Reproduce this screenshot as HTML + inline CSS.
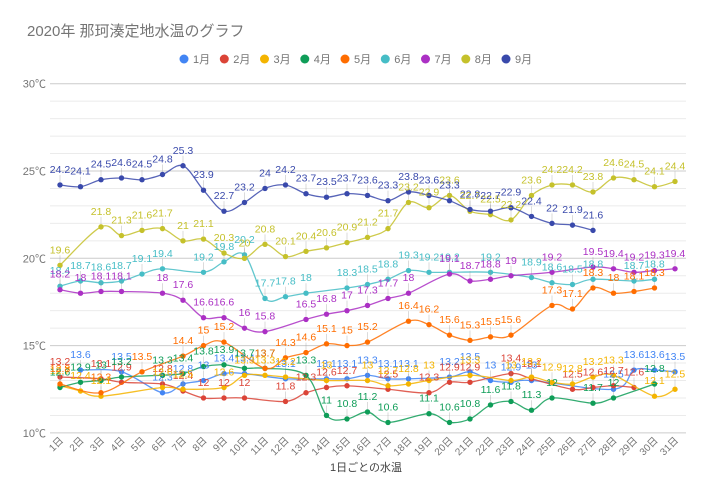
<!DOCTYPE html>
<html><head><meta charset="utf-8">
<style>
html,body{margin:0;padding:0;background:#fff;}
body{width:720px;height:493px;overflow:hidden;}
svg{display:block;font-family:"Liberation Sans","Noto Sans CJK JP",sans-serif;}
</style></head><body>
<svg id="c" width="720" height="493" viewBox="0 0 720 493">
<rect width="720" height="493" fill="#fff"/>
<text x="27" y="36" font-size="15" fill="#757575">2020年 那珂湊定地水温のグラフ</text>
<g font-size="11" fill="#757575">
<circle cx="184" cy="59" r="4.5" fill="#4285f4"/><text x="193" y="63">1月</text>
<circle cx="224.3" cy="59" r="4.5" fill="#db4437"/><text x="233.3" y="63">2月</text>
<circle cx="264.5" cy="59" r="4.5" fill="#f4b400"/><text x="273.5" y="63">3月</text>
<circle cx="304.8" cy="59" r="4.5" fill="#0f9d58"/><text x="313.8" y="63">4月</text>
<circle cx="345" cy="59" r="4.5" fill="#ff6d00"/><text x="354" y="63">5月</text>
<circle cx="385.3" cy="59" r="4.5" fill="#46bdc6"/><text x="394.3" y="63">6月</text>
<circle cx="425.5" cy="59" r="4.5" fill="#ab30c4"/><text x="434.5" y="63">7月</text>
<circle cx="465.8" cy="59" r="4.5" fill="#c5c12b"/><text x="474.8" y="63">8月</text>
<circle cx="506" cy="59" r="4.5" fill="#3949ab"/><text x="515" y="63">9月</text>
</g>
<g id="grid"></g>
<g font-size="11" fill="#757575" text-anchor="end">
<text x="46" y="87.7">30℃</text>
<text x="46" y="175">25℃</text>
<text x="46" y="262.3">20℃</text>
<text x="46" y="349.6">15℃</text>
<text x="46" y="436.9">10℃</text>
</g>
<g font-size="10" fill="#757575" text-anchor="end">
<text x="64" y="441" transform="rotate(-45 64 441)">1日</text>
<text x="84.5" y="441" transform="rotate(-45 84.5 441)">2日</text>
<text x="105" y="441" transform="rotate(-45 105 441)">3日</text>
<text x="125.5" y="441" transform="rotate(-45 125.5 441)">4日</text>
<text x="146" y="441" transform="rotate(-45 146 441)">5日</text>
<text x="166.5" y="441" transform="rotate(-45 166.5 441)">6日</text>
<text x="187" y="441" transform="rotate(-45 187 441)">7日</text>
<text x="207.5" y="441" transform="rotate(-45 207.5 441)">8日</text>
<text x="228" y="441" transform="rotate(-45 228 441)">9日</text>
<text x="248.5" y="441" transform="rotate(-45 248.5 441)">10日</text>
<text x="269" y="441" transform="rotate(-45 269 441)">11日</text>
<text x="289.5" y="441" transform="rotate(-45 289.5 441)">12日</text>
<text x="310" y="441" transform="rotate(-45 310 441)">13日</text>
<text x="330.5" y="441" transform="rotate(-45 330.5 441)">14日</text>
<text x="351" y="441" transform="rotate(-45 351 441)">15日</text>
<text x="371.5" y="441" transform="rotate(-45 371.5 441)">16日</text>
<text x="392" y="441" transform="rotate(-45 392 441)">17日</text>
<text x="412.5" y="441" transform="rotate(-45 412.5 441)">18日</text>
<text x="433" y="441" transform="rotate(-45 433 441)">19日</text>
<text x="453.5" y="441" transform="rotate(-45 453.5 441)">20日</text>
<text x="474" y="441" transform="rotate(-45 474 441)">21日</text>
<text x="494.5" y="441" transform="rotate(-45 494.5 441)">22日</text>
<text x="515" y="441" transform="rotate(-45 515 441)">23日</text>
<text x="535.5" y="441" transform="rotate(-45 535.5 441)">24日</text>
<text x="556" y="441" transform="rotate(-45 556 441)">25日</text>
<text x="576.5" y="441" transform="rotate(-45 576.5 441)">26日</text>
<text x="597" y="441" transform="rotate(-45 597 441)">27日</text>
<text x="617.5" y="441" transform="rotate(-45 617.5 441)">28日</text>
<text x="638" y="441" transform="rotate(-45 638 441)">29日</text>
<text x="658.5" y="441" transform="rotate(-45 658.5 441)">30日</text>
<text x="679" y="441" transform="rotate(-45 679 441)">31日</text>
</g>
<text x="366" y="471" font-size="11" fill="#444" text-anchor="middle">1日ごとの水温</text>
<g id="series"></g>
<g id="labels" font-size="10.5" text-anchor="middle">
<g fill="#4285f4">
<text class="d2">13.6</text><text class="d4">13.5</text><text class="d6">12.3</text><text class="d7">12.8</text><text class="d8">13</text><text class="d9">13.4</text><text class="d10">13.4</text><text class="d12">13.1</text><text class="d14">13.1</text><text class="d15">13.1</text><text class="d16">13.3</text><text class="d17">13.1</text><text class="d18">13.1</text><text class="d20">13.2</text><text class="d21">13.5</text><text class="d22">13</text><text class="d23">12.9</text><text class="d24">13</text><text class="d28">12.5</text><text class="d29">13.6</text><text class="d30">13.6</text><text class="d31">13.5</text>
</g>
<g fill="#db4437">
<text class="d1">13.2</text><text class="d3">13.1</text><text class="d4">12.9</text><text class="d6">12.8</text><text class="d7">12.4</text><text class="d8">12</text><text class="d9">12</text><text class="d10">12</text><text class="d12">11.8</text><text class="d13">12.3</text><text class="d14">12.6</text><text class="d15">12.7</text><text class="d17">12.5</text><text class="d19">12.3</text><text class="d20">12.9</text><text class="d21">12.9</text><text class="d23">13.4</text><text class="d24">13.1</text><text class="d26">12.5</text><text class="d27">12.6</text><text class="d28">12.7</text><text class="d29">12.6</text>
</g>
<g fill="#f4b400">
<text class="d1">12.7</text><text class="d2">12.4</text><text class="d3">12.1</text><text class="d6">12.6</text><text class="d7">12.5</text><text class="d9">12.6</text><text class="d10">13.3</text><text class="d11">13.3</text><text class="d12">13.2</text><text class="d14">13</text><text class="d16">13</text><text class="d17">12.7</text><text class="d18">12.8</text><text class="d19">13</text><text class="d21">13.3</text><text class="d23">13</text><text class="d24">13.2</text><text class="d25">12.9</text><text class="d26">12.8</text><text class="d27">13.2</text><text class="d28">13.3</text><text class="d30">12.1</text><text class="d31">12.5</text>
</g>
<g fill="#0f9d58">
<text class="d1">12.6</text><text class="d2">12.9</text><text class="d3">13</text><text class="d4">13.2</text><text class="d6">13.3</text><text class="d7">13.4</text><text class="d8">13.8</text><text class="d9">13.9</text><text class="d10">13.7</text><text class="d11">13.7</text><text class="d13">13.3</text><text class="d14">11</text><text class="d15">10.8</text><text class="d16">11.2</text><text class="d17">10.6</text><text class="d19">11.1</text><text class="d20">10.6</text><text class="d21">10.8</text><text class="d22">11.6</text><text class="d23">11.8</text><text class="d24">11.3</text><text class="d25">12</text><text class="d27">11.7</text><text class="d28">12</text><text class="d30">12.8</text>
</g>
<g fill="#ff6d00">
<text class="d1">12.8</text><text class="d3">12.3</text><text class="d5">13.5</text><text class="d7">14.4</text><text class="d8">15</text><text class="d9">15.2</text><text class="d11">13.7</text><text class="d12">14.3</text><text class="d13">14.6</text><text class="d14">15.1</text><text class="d15">15</text><text class="d16">15.2</text><text class="d18">16.4</text><text class="d19">16.2</text><text class="d20">15.6</text><text class="d21">15.3</text><text class="d22">15.5</text><text class="d23">15.6</text><text class="d25">17.3</text><text class="d26">17.1</text><text class="d27">18.3</text><text class="d28">18</text><text class="d29">18.1</text><text class="d30">18.3</text>
</g>
<g fill="#46bdc6">
<text class="d1">18.4</text><text class="d2">18.7</text><text class="d3">18.6</text><text class="d4">18.7</text><text class="d5">19.1</text><text class="d6">19.4</text><text class="d8">19.2</text><text class="d9">19.8</text><text class="d10">20.2</text><text class="d11">17.7</text><text class="d12">17.8</text><text class="d13">18</text><text class="d15">18.3</text><text class="d16">18.5</text><text class="d17">18.8</text><text class="d18">19.3</text><text class="d19">19.2</text><text class="d20">19.2</text><text class="d22">19.2</text><text class="d24">18.9</text><text class="d25">18.6</text><text class="d26">18.5</text><text class="d27">18.8</text><text class="d29">18.7</text><text class="d30">18.8</text>
</g>
<g fill="#ab30c4">
<text class="d1">18.2</text><text class="d2">18</text><text class="d3">18.1</text><text class="d4">18.1</text><text class="d6">18</text><text class="d7">17.6</text><text class="d8">16.6</text><text class="d9">16.6</text><text class="d10">16</text><text class="d11">15.8</text><text class="d13">16.5</text><text class="d14">16.8</text><text class="d15">17</text><text class="d16">17.3</text><text class="d17">17.7</text><text class="d18">18</text><text class="d20">19.1</text><text class="d21">18.7</text><text class="d22">18.8</text><text class="d23">19</text><text class="d25">19.2</text><text class="d27">19.5</text><text class="d28">19.4</text><text class="d29">19.2</text><text class="d30">19.3</text><text class="d31">19.4</text>
</g>
<g fill="#c5c12b">
<text class="d1">19.6</text><text class="d3">21.8</text><text class="d4">21.3</text><text class="d5">21.6</text><text class="d6">21.7</text><text class="d7">21</text><text class="d8">21.1</text><text class="d9">20.3</text><text class="d10">20</text><text class="d11">20.8</text><text class="d12">20.1</text><text class="d13">20.4</text><text class="d14">20.6</text><text class="d15">20.9</text><text class="d16">21.2</text><text class="d17">21.7</text><text class="d18">23.2</text><text class="d19">22.9</text><text class="d20">23.6</text><text class="d21">22.7</text><text class="d22">22.5</text><text class="d23">22.2</text><text class="d24">23.6</text><text class="d25">24.2</text><text class="d26">24.2</text><text class="d27">23.8</text><text class="d28">24.6</text><text class="d29">24.5</text><text class="d30">24.1</text><text class="d31">24.4</text>
</g>
<g fill="#3949ab">
<text class="d1">24.2</text><text class="d2">24.1</text><text class="d3">24.5</text><text class="d4">24.6</text><text class="d5">24.5</text><text class="d6">24.8</text><text class="d7">25.3</text><text class="d8">23.9</text><text class="d9">22.7</text><text class="d10">23.2</text><text class="d11">24</text><text class="d12">24.2</text><text class="d13">23.7</text><text class="d14">23.5</text><text class="d15">23.7</text><text class="d16">23.6</text><text class="d17">23.3</text><text class="d18">23.8</text><text class="d19">23.6</text><text class="d20">23.3</text><text class="d21">22.8</text><text class="d22">22.7</text><text class="d23">22.9</text><text class="d24">22.4</text><text class="d25">22</text><text class="d26">21.9</text><text class="d27">21.6</text>
</g>
</g>
</svg>
<script>
(function(){
var ns='http://www.w3.org/2000/svg';
function X(d){return 60+(d-1)*20.5;}
function Y(v){return 432.9-(v-10)*17.46;}
function el(n,a,p){var e=document.createElementNS(ns,n);for(var k in a)e.setAttribute(k,a[k]);p.appendChild(e);return e;}
var grid=document.getElementById('grid');
for(var v=10;v<=30;v++){
  var y=Y(v);var major=(v%5===0);
  el('line',{x1:50,x2:686,y1:y,y2:y,stroke:major?'#cccccc':'#ebebeb','stroke-width':1},grid);
}
var ser=document.getElementById('series');
var groups=document.querySelectorAll('#labels > g');
for(var gi=0;gi<groups.length;gi++){
  var g=groups[gi];var col=g.getAttribute('fill');var P=[];
  var ts=g.querySelectorAll('text');
  var sg=el('g',{},ser);
  for(var i=0;i<ts.length;i++){
    var t=ts[i];var d=parseInt(t.getAttribute('class').slice(1),10);var val=parseFloat(t.textContent);
    var x=X(d),y=Y(val);P.push([x,y]);
    t.setAttribute('x',x);t.setAttribute('y',y-12);
    el('line',{x1:x,x2:x,y1:y-3,y2:y-10,stroke:'#999','stroke-opacity':0.35,'stroke-width':1},sg);
  }
  var dstr='M'+P[0][0]+','+P[0][1];
  for(var i=0;i<P.length-1;i++){
    var p0=P[i-1]||P[i],p1=P[i],p2=P[i+1],p3=P[i+2]||P[i+1];
    var c1x=p1[0]+(p2[0]-p0[0])/6,c1y=p1[1]+(p2[1]-p0[1])/6;
    var c2x=p2[0]-(p3[0]-p1[0])/6,c2y=p2[1]-(p3[1]-p1[1])/6;
    dstr+=' C'+c1x.toFixed(2)+','+c1y.toFixed(2)+' '+c2x.toFixed(2)+','+c2y.toFixed(2)+' '+p2[0].toFixed(2)+','+p2[1].toFixed(2);
  }
  el('path',{d:dstr,fill:'none',stroke:col,'stroke-width':1.3,'stroke-opacity':0.85},sg);
  for(var i=0;i<P.length;i++){el('circle',{cx:P[i][0],cy:P[i][1],r:2.7,fill:col},sg);}
}
})();
</script>
</body></html>
